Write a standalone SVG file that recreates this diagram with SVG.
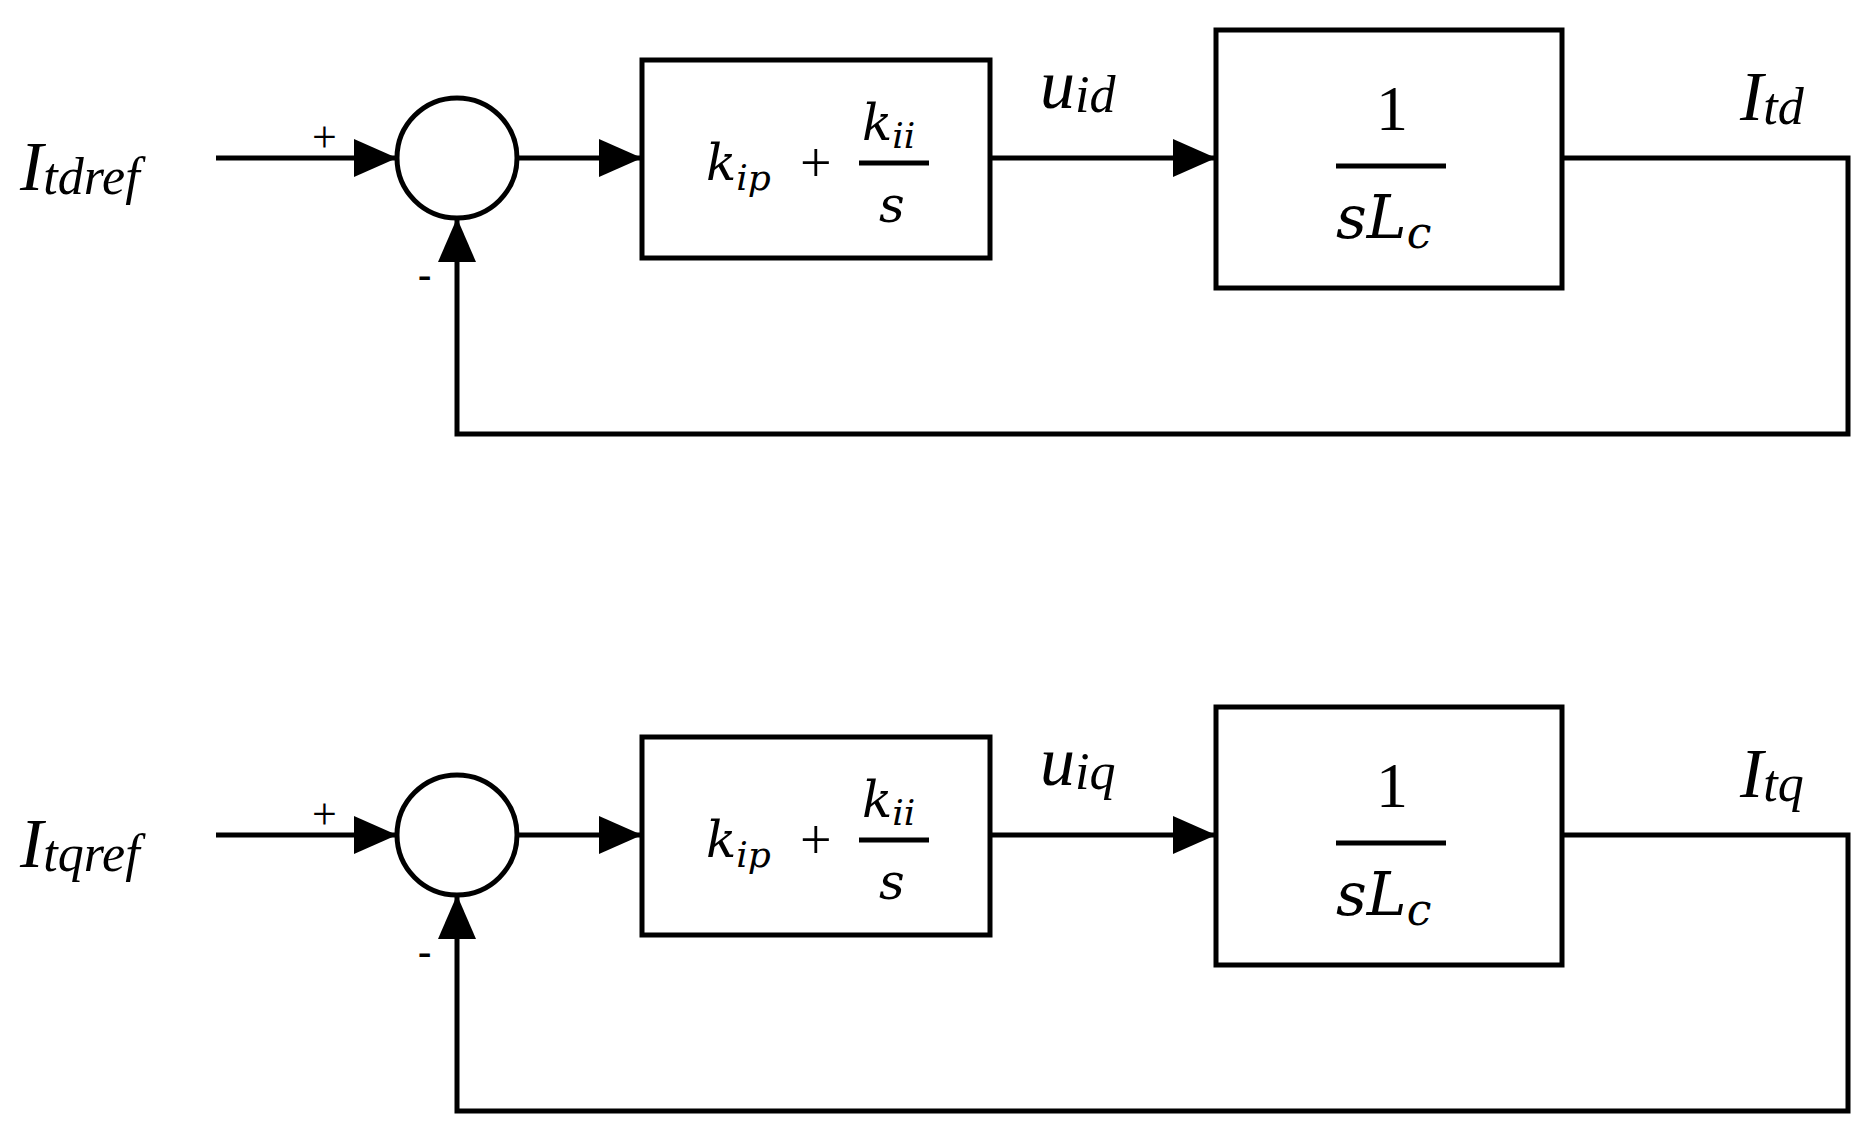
<svg xmlns="http://www.w3.org/2000/svg" width="1876" height="1132" viewBox="0 0 1876 1132">
<defs>
<style>
.l{fill:none;stroke:#000;stroke-width:5}
.b{fill:#fff;stroke:#000;stroke-width:5}
.t{font-family:"Liberation Serif",serif;font-style:italic;fill:#000}
.m{font-family:"DejaVu Serif","Liberation Serif",serif;font-style:italic;fill:#000}
.u{font-family:"Liberation Serif",serif;fill:#000}
</style>
<g id="row">
<g id="conn">
<path class="l" d="M216,158H397"/>
<path d="M354,139L397,158L354,177Z"/>
<path class="l" d="M517,158H642"/>
<path d="M599,139L642,158L599,177Z"/>
<path class="l" d="M990,158H1216"/>
<path d="M1173,139L1216,158L1173,177Z"/>
<path class="l" d="M1562,158H1848V434H457V218"/>
<path d="M438,262L457,218L476,262Z"/>
</g>
<g id="sum"><ellipse class="b" cx="457" cy="158" rx="60" ry="60"/>
<text class="u" x="312" y="152" font-size="44">+</text>
<text class="u" x="418" y="288" font-size="40" font-weight="bold">-</text></g>
<g id="pi"><rect class="b" x="642" y="60" width="348" height="198"/>
<text class="m" x="706" y="180" font-size="50">k<tspan font-size="36" dy="10">ip</tspan></text>
<text class="u" x="800" y="182" font-size="56">+</text>
<path class="l" d="M859,163H929"/>
<text class="m" x="862" y="140" font-size="50">k<tspan font-size="36" dy="8">ii</tspan></text>
<text class="m" x="879" y="222" font-size="50">s</text></g>
<g id="plant"><rect class="b" x="1216" y="30" width="346" height="258"/>
<text class="u" x="1392" y="130" font-size="64" text-anchor="middle">1</text>
<path class="l" d="M1336,166H1446"/>
<text class="m" x="1336" y="238" font-size="60">sL<tspan font-size="44" dy="10">c</tspan></text></g>
</g>
</defs>
<rect width="1876" height="1132" fill="#fff"/>
<use href="#row"/>
<use href="#row" y="677"/>
<g id="labels">
<text class="t" x="20" y="190" font-size="70">I<tspan font-size="52" dy="4">tdref</tspan></text>
<text class="t" x="20" y="867" font-size="70">I<tspan font-size="52" dy="4">tqref</tspan></text>
<text class="t" x="1040" y="108" font-size="70">u<tspan font-size="52" dy="4">id</tspan></text>
<text class="t" x="1040" y="785" font-size="70">u<tspan font-size="52" dy="4">iq</tspan></text>
<text class="t" x="1740" y="120" font-size="70">I<tspan font-size="52" dy="4">td</tspan></text>
<text class="t" x="1740" y="797" font-size="70">I<tspan font-size="52" dy="4">tq</tspan></text>
</g>
</svg>
